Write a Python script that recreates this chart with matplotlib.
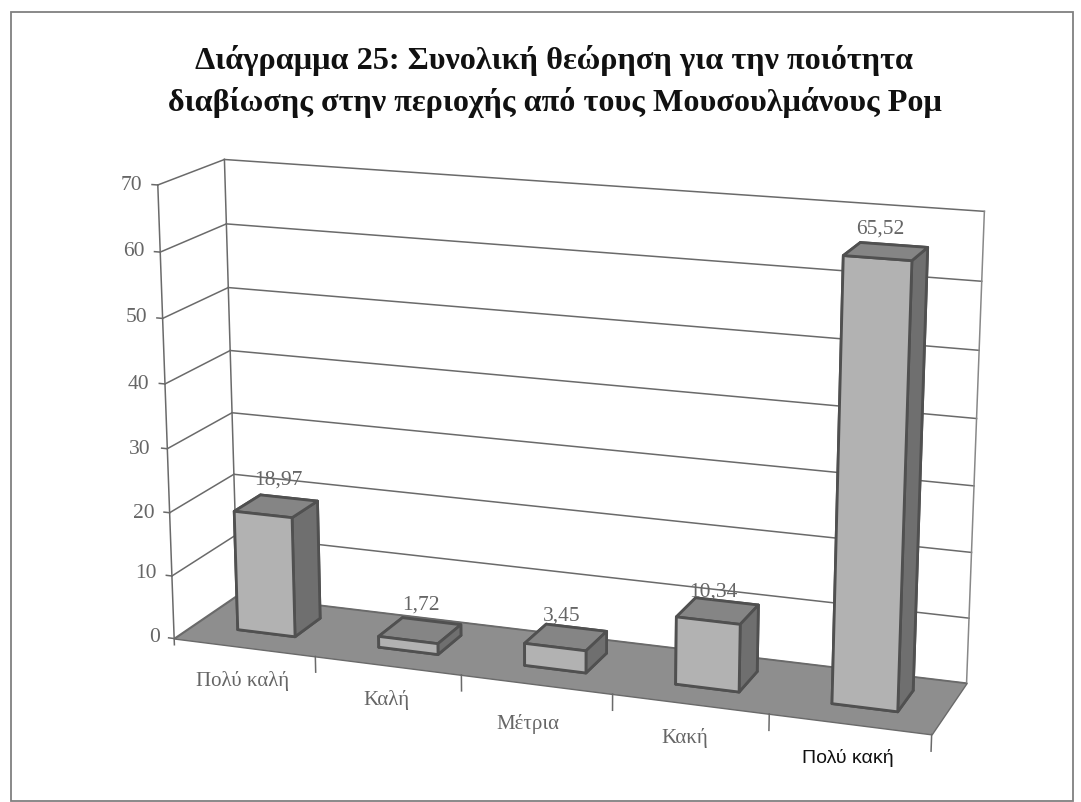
import matplotlib
matplotlib.use('Agg')
import matplotlib.pyplot as plt
from mpl_toolkits.mplot3d.art3d import Poly3DCollection

W, H = 1081, 803

categories = ['Πολύ καλή', 'Καλή', 'Μέτρια', 'Κακή', 'Πολύ κακή']
values = [18.97, 1.72, 3.45, 10.34, 65.52]
value_labels = ['18,97', '1,72', '3,45', '10,34', '65,52']
z_ticks = [0, 10, 20, 30, 40, 50, 60, 70]
title_lines = ['Διάγραμμα 25: Συνολική θεώρηση για την ποιότητα',
               'διαβίωσης στην περιοχής από τους Μουσουλμάνους Ρομ']

LINE = '#6a6a6a'
TEXT = '#666666'
SERIF = 'Liberation Serif'


def px_text(x, y, s, **kw):
    # place text using pixel positions of the picture
    kw.setdefault('ha', 'center')
    kw.setdefault('va', 'center')
    fig.text(x / W, 1 - y / H, s, **kw)


fig = plt.figure(figsize=(W / 100, H / 100), dpi=100)
ax = fig.add_axes([7 / W, -0.233, 1.0, W / H], projection='3d', computed_zorder=False)
ax.set_proj_type('persp', focal_length=0.52)
ax.view_init(elev=15.5, azim=-70)
ax.set_box_aspect((803, 150, 478), zoom=0.853)
ax.set_axis_off()
ax.set_xlim(0, 5, view_margin=0)
ax.set_ylim(0, 1, view_margin=0)
ax.set_zlim(0, 70, view_margin=0)

# floor
floor = Poly3DCollection([[(0, 0, 0), (5, 0, 0), (5, 1, 0), (0, 1, 0)]],
                         facecolor='#8e8e8e', edgecolor='#6a6a6a', linewidth=1, zorder=2)
ax.add_collection3d(floor)

# walls and grid
for z in z_ticks:
    ax.plot([0, 0], [0, 1], [z, z], color=LINE, lw=1.1, zorder=1)
    ax.plot([0, 5], [1, 1], [z, z], color=LINE, lw=1.1, zorder=1)
    ax.plot([0, -0.04], [0, 0], [z, z], color=LINE, lw=1.1, zorder=1)
ax.plot([0, 0], [0, 0], [-1, 70], color=LINE, lw=1.1, zorder=1)
ax.plot([0, 0], [1, 1], [0, 70], color=LINE, lw=1.1, zorder=1)
ax.plot([5, 5], [1, 1], [0, 70], color='#888888', lw=1.1, zorder=1)
for i in range(1, 6):
    ax.plot([i, i], [0, 0], [0, -2.5], color=LINE, lw=1.1, zorder=3)

# bars, faces are bottom, top, front, back, left, right
face_colors = ['#777777', '#858585', '#b2b2b2', '#777777', '#b2b2b2', '#6f6f6f']
for i, v in enumerate(values):
    ax.bar3d(i + 0.31, 0.32, 0, 0.41, 0.42, v, color=face_colors, edgecolor='#505050',
             linewidth=2, shade=False, zorder=4 + i)

# value labels
value_pos = [(278, 480), (421, 605), (562, 616), (713, 592), (880, 229)]
for s, (x, y) in zip(value_labels, value_pos):
    px_text(x, y, s, family=SERIF, fontsize=15.5, color=TEXT)

# tick labels
z_label_pos = [(160, 638), (157, 574), (155, 513), (150, 450),
               (149, 385), (147, 318), (145, 252), (142, 185)]
for z, (x, y) in zip(z_ticks, z_label_pos):
    px_text(x, y, str(z), family=SERIF, fontsize=15.5, color=TEXT, ha='right')
label_pos = [(243, 681), (386, 700), (528, 724), (685, 738), (848, 758)]
for c, (x, y) in zip(categories, label_pos):
    if c == 'Πολύ κακή':
        px_text(x, y, c, family='Liberation Sans', fontsize=14, color='#111111')
    else:
        px_text(x, y, c, family=SERIF, fontsize=15, color=TEXT)

# title
px_text(554, 60, title_lines[0], family=SERIF, weight='bold', fontsize=23.2, color='#111111')
px_text(555, 103, title_lines[1], family=SERIF, weight='bold', fontsize=23.2, color='#111111')

# outer frame
fig.add_artist(plt.Rectangle((11 / W, 1 - 802 / H), 1062 / W, 789 / H, fill=False,
                             edgecolor='#808080', linewidth=1.3,
                             transform=fig.transFigure))

fig.savefig('out.png', dpi=100)
